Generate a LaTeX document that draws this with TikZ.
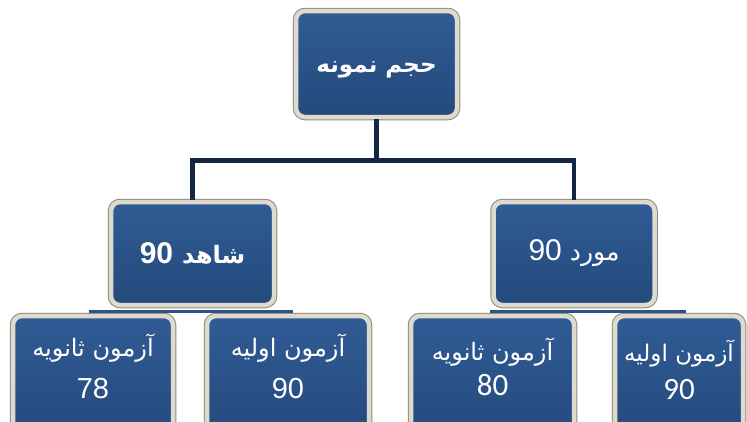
\documentclass[tikz,border=0pt]{standalone}
\usepackage{fontspec}
\usetikzlibrary{calc}
\TeXXeTstate=1
\newfontfamily\arfont[Script=Arabic]{DejaVu Sans}
\newfontfamily\latfont{Liberation Sans}
\newfontfamily\calfont{Carlito}
\definecolor{bluetop}{HTML}{305B94}
\definecolor{bluebot}{HTML}{244A7D}
\definecolor{framelight}{HTML}{DEDACE}
\definecolor{framedark}{HTML}{8E8A7E}
\definecolor{navy}{HTML}{142642}
\definecolor{barblue}{HTML}{2C5388}
\tikzset{
  box/.style={rectangle, rounded corners=9pt, draw=framelight, line width=4.5pt,
    top color=bluetop, bottom color=bluebot,
    preaction={draw=framedark, line width=6.5pt}, inner sep=0pt},
  conn/.style={draw=navy, line width=4.5pt},
  bar/.style={draw=barblue, line width=3.5pt},
  ttext/.style={text=white, inner sep=0pt, align=center}
}
\begin{document}
\begin{tikzpicture}[x=1pt,y=-1pt]
\useasboundingbox (0,0) rectangle (747,421);
\clip (0,0) rectangle (747,421);
\fill[white] (0,0) rectangle (747,421);
% boxes
\node[box, minimum width=161pt, minimum height=106pt] (top) at (376.5,64) {};
\node[box, minimum width=163pt, minimum height=103pt] (lm) at (192.5,253.5) {};
\node[box, minimum width=161pt, minimum height=103pt] (rm) at (574,253.5) {};
\node[box, minimum width=160pt, minimum height=121pt] (ll) at (93,376.5) {};
\node[box, minimum width=162pt, minimum height=121pt] (lr) at (288,376.5) {};
\node[box, minimum width=163pt, minimum height=121pt] (rl) at (492.5,376.5) {};
\node[box, minimum width=128pt, minimum height=121pt] (rr) at (679,376.5) {};
% connectors
\coordinate (hj) at ($(top.south)+(0,41)$);
\draw[conn] (top.south) -- (hj);
\draw[conn] (lm.north) |- (hj) -| (rm.north);
% bars under middle boxes
\draw[bar] ($(ll.north)+(-4,-2.5)$) -- ($(lr.north)+(5,-2.5)$);
\draw[bar] ($(rl.north)+(-3,-2.5)$) -- ($(rr.north)+(7,-2.5)$);
% texts
\node[ttext] (ttop) at ($(top.center)+(0,6)$) {\arfont\bfseries\fontsize{23}{27}\selectfont\beginR حجم نمونه\endR};
\node[ttext] (tlm) at (lm.center) {{\latfont\bfseries\fontsize{30}{32}\selectfont 90}\hspace{9pt}{\arfont\bfseries\fontsize{24}{28}\selectfont\beginR شاهد\endR}};
\node[ttext] (trm) at (rm.center) {{\latfont\fontsize{30}{32}\selectfont 90}\hspace{8pt}{\arfont\fontsize{25}{28}\selectfont\beginR مورد\endR}};
\node[ttext] (tll1) at ($(ll.north)+(0,34)$) {\arfont\fontsize{24}{28}\selectfont\beginR آزمون ثانویه\endR};
\node[ttext] (tll2) at ($(ll.north)+(0,75)$) {\latfont\fontsize{29}{32}\selectfont 78};
\node[ttext] (tlr1) at ($(lr.north)+(0,34)$) {\arfont\fontsize{24}{28}\selectfont\beginR آزمون اولیه\endR};
\node[ttext] (tlr2) at ($(lr.north)+(0,75)$) {\latfont\fontsize{29}{32}\selectfont 90};
\node[ttext] (trl1) at ($(rl.north)+(0,38)$) {\arfont\fontsize{24}{28}\selectfont\beginR آزمون ثانویه\endR};
\node[ttext] (trl2) at ($(rl.north)+(0,71)$) {\calfont\fontsize{31}{34}\selectfont 80};
\node[ttext] (trr1) at ($(rr.north)+(0,40)$) {\arfont\fontsize{23}{28}\selectfont\beginR آزمون اولیه\endR};
\node[ttext] (trr2) at ($(rr.north)+(0,76)$) {\calfont\fontsize{31}{34}\selectfont 90};
\end{tikzpicture}
\end{document}
